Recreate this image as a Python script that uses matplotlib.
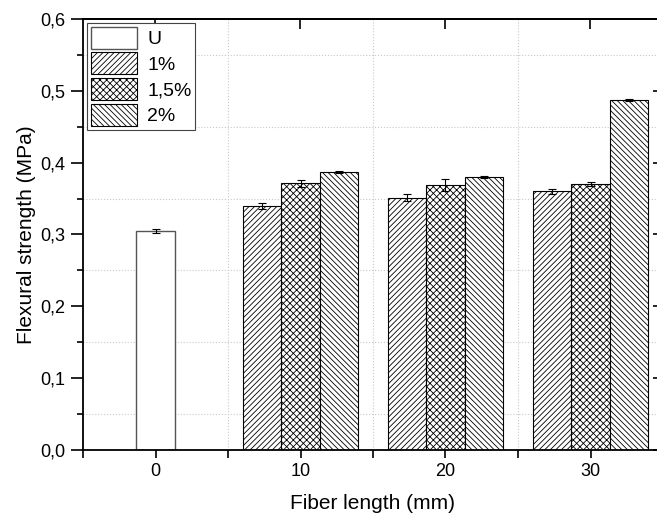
import numpy as np
import matplotlib.pyplot as plt
from matplotlib.ticker import FuncFormatter, MultipleLocator, NullFormatter

plt.rcParams['font.family'] = ['Liberation Sans', 'DejaVu Sans']
plt.rcParams['hatch.linewidth'] = 0.6

# data
lengths = [10, 20, 30]
u_value, u_err = 0.305, 0.003
v_1 = [0.340, 0.351, 0.360]
e_1 = [0.004, 0.005, 0.003]
v_15 = [0.371, 0.369, 0.370]
e_15 = [0.005, 0.008, 0.003]
v_2 = [0.387, 0.380, 0.487]
e_2 = [0.002, 0.002, 0.001]
labels = ['U', '1%', '1,5%', '2%']

w = 2.65
fig = plt.figure(figsize=(6.57, 5.13), dpi=100)
ax = fig.add_axes([83 / 657, 63 / 513, 580 / 657, 431 / 513])

x = np.array(lengths, dtype=float)
err_kw = dict(ecolor='black', elinewidth=0.8, capsize=3, capthick=0.8)
ax.bar([0], [u_value], w, yerr=[u_err], color='white', edgecolor='#555555',
       lw=1, label=labels[0], error_kw=err_kw, zorder=2)
ax.bar(x - w, v_1, w, yerr=e_1, color='white', edgecolor='black', lw=0.8,
       hatch='//////', label=labels[1], error_kw=err_kw, zorder=2)
ax.bar(x, v_15, w, yerr=e_15, color='white', edgecolor='black', lw=0.8,
       hatch='xxxxx', label=labels[2], error_kw=err_kw, zorder=2)
ax.bar(x + w, v_2, w, yerr=e_2, color='white', edgecolor='black', lw=0.8,
       hatch='\\\\\\\\\\\\', label=labels[3], error_kw=err_kw, zorder=2)

ax.set_xlim(-5, 35)
ax.set_ylim(0, 0.6)
ax.xaxis.set_major_locator(MultipleLocator(10))
ax.xaxis.set_minor_locator(MultipleLocator(5))
ax.yaxis.set_major_locator(MultipleLocator(0.1))
ax.yaxis.set_minor_locator(MultipleLocator(0.05))
ax.yaxis.set_major_formatter(FuncFormatter(lambda v, p: f'{v:.1f}'.replace('.', ',')))

ax.grid(which='minor', color='#c8c8c8', ls=':', lw=0.8, zorder=0)
ax.grid(which='major', visible=False)

ax.tick_params(which='both', direction='out', labelsize=13, width=1.2, pad=3.5)
ax.tick_params(axis='y', which='major', length=9)
ax.tick_params(axis='y', which='minor', length=4)
ax.tick_params(axis='x', which='both', length=6)
for s in ax.spines.values():
    s.set_linewidth(1.3)

# Origin-style inward ticks on the top and right frame
top = ax.secondary_xaxis('top')
top.xaxis.set_major_locator(MultipleLocator(10))
top.xaxis.set_major_formatter(NullFormatter())
top.tick_params(direction='in', length=7, width=1.2)
top.spines['top'].set_linewidth(1.3)
right = ax.secondary_yaxis('right')
right.yaxis.set_major_locator(MultipleLocator(0.1))
right.yaxis.set_major_formatter(NullFormatter())
right.tick_params(direction='in', length=7, width=1.2)

ax.set_xlabel('Fiber length (mm)', fontsize=15, labelpad=10)
ax.set_ylabel('Flexural strength (MPa)', fontsize=15, labelpad=3)

leg = ax.legend(loc='upper left', fontsize=14, frameon=True, fancybox=False,
                edgecolor='#444444', framealpha=1, handlelength=2.4,
                handleheight=1.35, labelspacing=0.2, borderpad=0.2,
                borderaxespad=0.2, handletextpad=0.5)
leg.get_frame().set_linewidth(0.8)

fig.savefig('out.png', dpi=100)
